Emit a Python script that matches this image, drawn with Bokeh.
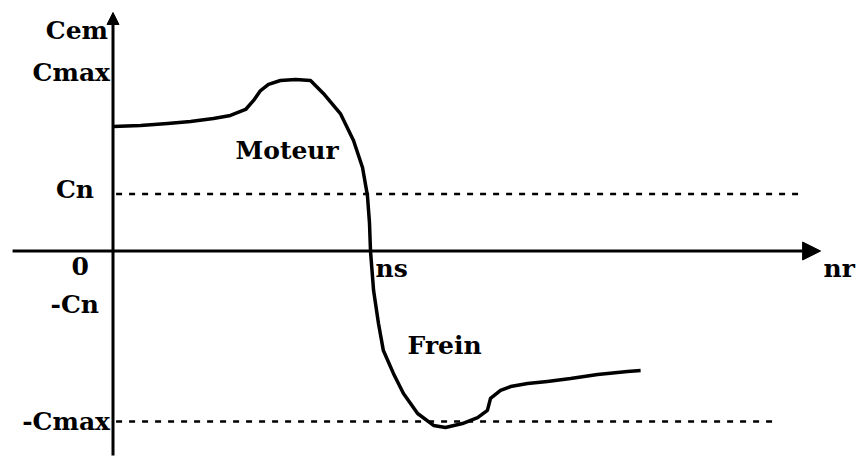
from bokeh.plotting import figure
from bokeh.models import Range1d, Arrow, NormalHead, ColumnDataSource
from bokeh.core.properties import value
from bokeh.embed import file_html
from bokeh.resources import INLINE

# Torque-speed characteristic of an induction machine
# speed n in units of synchronous speed ns, torque C in units of Cmax
speed = [0.000, 0.107, 0.212, 0.301, 0.390, 0.456, 0.515, 0.546, 0.573, 0.604,
         0.650, 0.709, 0.767, 0.817, 0.883, 0.934, 0.969, 0.988, 0.996, 1.000,
         1.012, 1.031, 1.050, 1.089, 1.128, 1.183, 1.245, 1.291, 1.357, 1.416,
         1.454, 1.466, 1.505, 1.544, 1.610, 1.687, 1.777, 1.882, 1.998, 2.049]
torque = [0.730, 0.736, 0.748, 0.760, 0.777, 0.795, 0.830, 0.883, 0.941, 0.977,
          1.000, 1.006, 1.000, 0.924, 0.806, 0.648, 0.490, 0.326, 0.167, 0.000,
          -0.232, -0.425, -0.584, -0.718, -0.836, -0.953, -1.023, -1.035, -1.012, -0.977,
          -0.935, -0.865, -0.818, -0.795, -0.777, -0.765, -0.748, -0.724, -0.707, -0.701]

# reference torque levels and their labels
c_max = 1.0
c_n = 0.335
level_values = [c_max, c_n, 0.0, -c_n, -c_max]
level_labels = ["Cmax", "Cn", "0", "-Cn", "-Cmax"]
level_dx = [-3, -19, -24, -14, -3]    # horizontal label nudges (px)
level_dy = [-8, -4, 15, -4, 0]        # vertical label nudges (px, screen down)

# dashed guide lines: (torque level, end speed)
guide_levels = [c_n, -c_max]
guide_ends = [2.670, 2.561]

ns = 1.0

FONT = value("DejaVu Serif")
SIZE = "25px"

p = figure(width=860, height=461, output_backend="svg", toolbar_location=None,
           x_range=Range1d(-112.5 / 257.5, (860 - 112.5) / 257.5),
           y_range=Range1d((250.5 - 461) / 170.5, 250.5 / 170.5),
           x_axis_type=None, y_axis_type=None, min_border=0)
p.outline_line_color = None
p.grid.visible = False
p.background_fill_color = "white"
p.border_fill_color = "white"

# dashed guides
for lvl, x_end in zip(guide_levels, guide_ends):
    p.line([0.012, x_end], [lvl, lvl], line_color="black", line_width=2.5,
           line_dash="6 7")

# axes with arrowheads
p.add_layout(Arrow(end=NormalHead(size=18, fill_color="black", line_color="black"),
                   x_start=-0.390, y_start=0.0, x_end=2.748, y_end=0.0,
                   line_width=3, line_color="black"))
p.add_layout(Arrow(end=NormalHead(size=12, fill_color="black", line_color="black"),
                   x_start=0.0, y_start=-1.199, x_end=0.0, y_end=1.399,
                   line_width=3, line_color="black"))

# characteristic curve
p.line(speed, torque, line_color="black", line_width=3.5, line_join="round")

# torque level labels left of the vertical axis
src = ColumnDataSource(dict(x=[0.0] * len(level_values), y=level_values,
                            t=level_labels, dx=level_dx, dy=level_dy))
p.text(x="x", y="y", text="t", source=src, x_offset="dx", y_offset="dy",
       text_align="right", text_baseline="middle", text_font=FONT,
       text_font_style="bold", text_font_size=SIZE, text_color="black")

# axis names and region labels
p.text(x=[0.0], y=[1.293], text=["Cem"], x_offset=-5, text_align="right",
       text_baseline="middle", text_font=FONT, text_font_style="bold",
       text_font_size=SIZE, text_color="black")
p.text(x=[ns], y=[0.0], text=["ns"], x_offset=5, y_offset=17, text_align="left",
       text_baseline="middle", text_font=FONT, text_font_style="bold",
       text_font_size=SIZE, text_color="black")
p.text(x=[2.748], y=[0.0], text=["nr"], x_offset=3, y_offset=17, text_align="left",
       text_baseline="middle", text_font=FONT, text_font_style="bold",
       text_font_size=SIZE, text_color="black")
p.text(x=[0.476], y=[0.589], text=["Moteur"], text_align="left",
       text_baseline="middle", text_font=FONT, text_font_style="bold",
       text_font_size=SIZE, text_color="black")
p.text(x=[1.144], y=[-0.554], text=["Frein"], text_align="left",
       text_baseline="middle", text_font=FONT, text_font_style="bold",
       text_font_size=SIZE, text_color="black")

open("out.html", "w").write(file_html(p, INLINE))
